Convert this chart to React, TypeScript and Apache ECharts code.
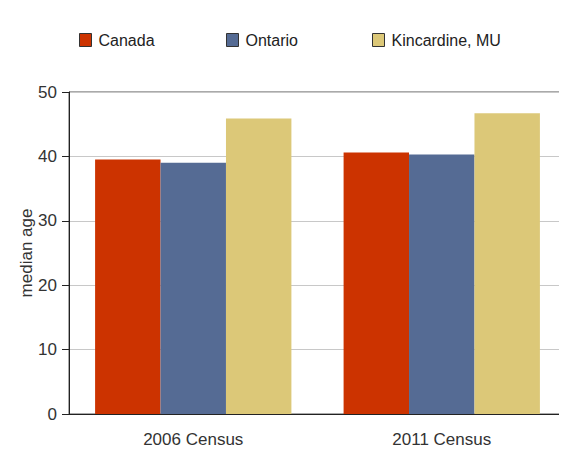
import React, { useEffect, useRef } from "react";
import * as echarts from "echarts";

const categories = ["2006 Census", "2011 Census"];
const seriesNames = ["Canada", "Ontario", "Kincardine, MU"];
const canada = [39.5, 40.6];
const ontario = [39.0, 40.3];
const kincardine = [45.9, 46.7];
const colors = ["#CC3300", "#556B94", "#DCC878"];

const FONT = "Liberation Sans, Arial, sans-serif";

export default function App() {
  const ref = useRef<HTMLDivElement>(null);

  useEffect(() => {
    if (!ref.current) return;
    const chart = echarts.init(ref.current, undefined, { renderer: "svg" });
    const values = [canada, ontario, kincardine];
    const legendLefts = [74, 221, 367];

    chart.setOption({
      animation: false,
      textStyle: { fontFamily: FONT },
      legend: seriesNames.map((name, i) => ({
        data: [name],
        left: legendLefts[i],
        top: 27,
        icon: "rect",
        itemWidth: 12,
        itemHeight: 13,
        itemGap: 0,
        itemStyle: { borderColor: "#333", borderWidth: 1 },
        textStyle: { fontSize: 16, color: "#222", fontFamily: FONT, padding: [0, 0, 0, 2] },
        selectedMode: false,
      })),
      grid: {
        left: 69,
        right: 1,
        top: 92,
        bottom: 42,
        show: true,
        borderColor: "#555",
        borderWidth: 1,
      },
      xAxis: {
        type: "category",
        data: categories,
        axisLine: { lineStyle: { color: "#222", width: 1 } },
        axisTick: { alignWithLabel: true, length: 6, lineStyle: { color: "#222" } },
        axisLabel: { fontSize: 17, color: "#333", margin: 17, fontFamily: FONT },
      },
      yAxis: {
        type: "value",
        min: 0,
        max: 50,
        interval: 10,
        name: "median age",
        nameLocation: "middle",
        nameRotate: 90,
        nameGap: 34,
        nameMoveOverlap: false,
        nameTextStyle: { fontSize: 17, color: "#333", fontFamily: FONT },
        axisLine: { show: true, lineStyle: { color: "#222", width: 1 } },
        axisTick: { show: true, length: 7, lineStyle: { color: "#222" } },
        axisLabel: { fontSize: 17, color: "#333", margin: 12, fontFamily: FONT },
        splitLine: { lineStyle: { color: "#c8c8c8", width: 1 } },
      },
      series: seriesNames.map((name, i) => ({
        name,
        type: "bar",
        data: values[i],
        barGap: "0%",
        barCategoryGap: "21%",
        itemStyle: { color: colors[i] },
      })),
    });

    return () => chart.dispose();
  }, []);

  return <div ref={ref} style={{ width: 567, height: 456, margin: -8 }} />;
}
